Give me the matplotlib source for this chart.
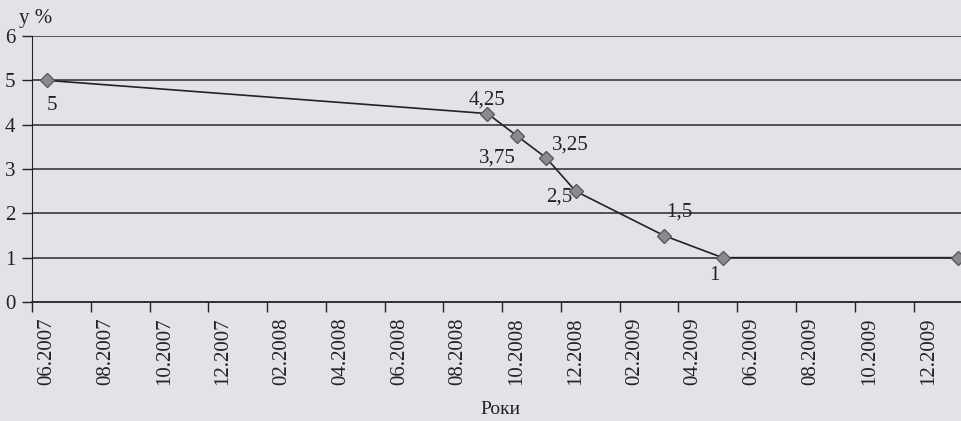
import matplotlib.pyplot as plt

# monthly categories on the x axis (06.2007 .. 01.2010)
months = ["06.2007", "07.2007", "08.2007", "09.2007", "10.2007", "11.2007",
          "12.2007", "01.2008", "02.2008", "03.2008", "04.2008", "05.2008",
          "06.2008", "07.2008", "08.2008", "09.2008", "10.2008", "11.2008",
          "12.2008", "01.2009", "02.2009", "03.2009", "04.2009", "05.2009",
          "06.2009", "07.2009", "08.2009", "09.2009", "10.2009", "11.2009",
          "12.2009", "01.2010"]

# months that carry a value, and the values (%)
point_months = ["06.2007", "09.2008", "10.2008", "11.2008", "12.2008",
                "03.2009", "05.2009", "01.2010"]
point_values = [5, 4.25, 3.75, 3.25, 2.5, 1.5, 1, 1]
point_labels = ["5", "4,25", "3,75", "3,25", "2,5", "1,5", "1", ""]
# label offsets in points (dx, dy)
label_offsets = [(4, -18), (0, 10), (-14, -16), (17, 9), (-12, -4), (11, 17), (-6, -13), (0, 0)]

y_ticks = [0, 1, 2, 3, 4, 5, 6]

plt.rcParams['font.family'] = ['Liberation Serif', 'DejaVu Serif']
bg = "#e3e2e7"
ink = "#222226"

fig = plt.figure(figsize=(9.62, 4.21), dpi=100, facecolor=bg)
ax = fig.add_axes([32 / 962, 1 - 302 / 421, 1 - 32 / 962, (302 - 36) / 421])
ax.set_facecolor(bg)

x = [months.index(m) for m in point_months]
ax.plot(x, point_values, color=ink, lw=1.2, zorder=3)
ax.plot(x, point_values, ls="none", marker="D", ms=7, mfc="#8b8b8f",
        mec="#5a5a5e", mew=1.0, zorder=4)

for xi, yi, lab, (dx, dy) in zip(x, point_values, point_labels, label_offsets):
    if lab:
        ax.annotate(lab, (xi, yi), xytext=(dx, dy), textcoords="offset points",
                    ha="center", va="center", fontsize=15, color=ink)

ax.set_xlim(-0.5, 31.15)
ax.set_ylim(0, 6)

for yv in y_ticks[1:]:
    ax.axhline(yv, color="#45454b", lw=1.3, zorder=1)

ax.set_yticks(y_ticks)
ax.tick_params(axis="y", length=7, width=1, color=ink, pad=5, labelsize=15, labelcolor=ink)

ax.set_xticks([i - 0.5 for i in range(0, len(months), 2)])
ax.set_xticklabels([])
ax.set_xticks(list(range(0, len(months), 2)), minor=True)
ax.set_xticklabels(months[0:len(months):2], minor=True, rotation=90)
ax.tick_params(axis="x", which="major", length=7, width=1, color=ink)
ax.tick_params(axis="x", which="minor", length=0, pad=11, labelsize=15, labelcolor=ink)

for side in ["top", "right"]:
    ax.spines[side].set_visible(False)
ax.spines["left"].set_color(ink)
ax.spines["bottom"].set_color(ink)
ax.spines["bottom"].set_linewidth(1.3)

fig.text(36 / 962, 1 - 18 / 421, "y %", ha="center", va="center", fontsize=15, color=ink)
fig.text(500 / 962, 1 - 409 / 421, "Роки", ha="center", va="center", fontsize=14, color=ink)

fig.savefig("out.png", dpi=100, facecolor=bg)
